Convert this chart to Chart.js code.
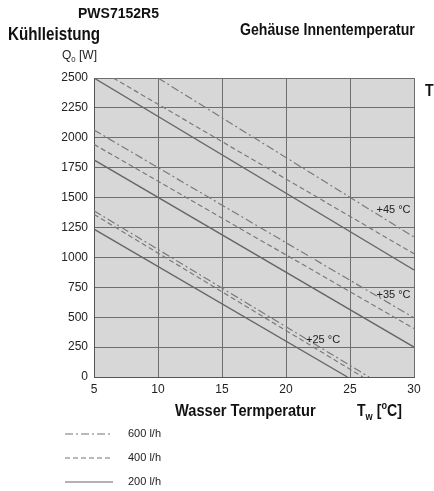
<!DOCTYPE html>
<html>
<head>
<meta charset="utf-8">
<script src="https://cdn.jsdelivr.net/npm/chart.js@4.4.0/dist/chart.umd.min.js"></script>
<style>
  html, body { margin:0; padding:0; background:#fff; }
  #wrap { position:relative; width:434px; height:491px; overflow:hidden; }
  #c { position:absolute; left:0; top:0; }
  .t { position:absolute; white-space:nowrap; color:#111; line-height:1.15; }
  .narrow { font-family:"Liberation Sans",Arial,sans-serif; font-weight:bold; font-size:17px; transform:scaleX(0.83); transform-origin:0 0; }
  .small { font-family:"Liberation Sans",Arial,sans-serif; font-size:11px; color:#222; }
  .glabel { position:absolute; font-family:"Liberation Sans",Arial,sans-serif; font-size:11px; color:#222; transform:translate(-50%,-50%); white-space:nowrap; }
  sub, sup { font-size:65%; line-height:0; }
</style>
</head>
<body>
<div id="wrap">
  <canvas id="c" width="434" height="491"></canvas>
  <div class="t" style="left:78px;top:5px;font-family:'Liberation Sans',Arial,sans-serif;font-weight:bold;font-size:14px;">PWS7152R5</div>
  <div class="t narrow" style="left:8px;top:24px;font-size:18px;transform:scaleX(0.845);">Kühlleistung</div>
  <div class="t narrow" style="left:240px;top:20px;">Gehäuse Innentemperatur</div>
  <div class="t narrow" style="left:425px;top:81px;">T<sub style="font-weight:normal">i</sub></div>
  <div class="t small" style="left:62px;top:49px;font-size:12px;">Q<sub>0</sub> [W]</div>
  <div class="t narrow" style="left:175px;top:401px;transform:scaleX(0.86);">Wasser Termperatur</div>
  <div class="t narrow" style="left:357px;top:401px;">T<sub>w</sub> [<sup>o</sup>C]</div>

  <svg style="position:absolute;left:0;top:420px" width="130" height="71">
    <line x1="65" y1="14" x2="113" y2="14" stroke="#777" stroke-width="1.2" stroke-dasharray="8,3,2,3"/>
    <line x1="65" y1="38" x2="113" y2="38" stroke="#777" stroke-width="1.2" stroke-dasharray="5,3"/>
    <line x1="65" y1="62" x2="113" y2="62" stroke="#666" stroke-width="1.2"/>
  </svg>
  <div class="t small" style="left:128px;top:427px;" id="lg0"></div>
  <div class="t small" style="left:128px;top:451px;" id="lg1"></div>
  <div class="t small" style="left:128px;top:475px;" id="lg2"></div>

  <div class="glabel" id="gl0"></div>
  <div class="glabel" id="gl1"></div>
  <div class="glabel" id="gl2"></div>
</div>
<script>
// ---- data ----
const xTicks = [5, 10, 15, 20, 25, 30];
const yTicks = [0, 250, 500, 750, 1000, 1250, 1500, 1750, 2000, 2250, 2500];
const flowLabels = ['600 l/h', '400 l/h', '200 l/h'];
const groupLabels = ['+45 °C', '+35 °C', '+25 °C'];
const groupLabelX = [28.4, 28.4, 22.9];
const groupLabelY = [1405, 697, 314];

// each series: water temperature (x) and cooling power (y)
const t45_600_x = [10, 30];   const t45_600_y = [2500, 1170];
const t45_400_x = [6.5, 30];  const t45_400_y = [2500, 1030];
const t45_200_x = [5, 30];    const t45_200_y = [2500, 895];
const t35_600_x = [5, 30];    const t35_600_y = [2065, 495];
const t35_400_x = [5, 30];    const t35_400_y = [1945, 405];
const t35_200_x = [5, 30];    const t35_200_y = [1815, 250];
const t25_600_x = [5, 26.5];  const t25_600_y = [1390, 0];
const t25_400_x = [5, 26];    const t25_400_y = [1360, 0];
const t25_200_x = [5, 24.8];  const t25_200_y = [1236, 0];

function pts(xs, ys) { return xs.map((x, i) => ({ x: x, y: ys[i] })); }

const styles = {
  600: { borderColor: '#7a7a7a', borderDash: [8, 3, 2, 3], borderWidth: 1.2 },
  400: { borderColor: '#7a7a7a', borderDash: [5, 3], borderWidth: 1.2 },
  200: { borderColor: '#666666', borderDash: [], borderWidth: 1.3 }
};
function ds(label, xs, ys, flow) {
  return Object.assign({ label: label, data: pts(xs, ys), pointRadius: 0, fill: false, tension: 0 }, styles[flow]);
}

document.getElementById('lg0').textContent = flowLabels[0];
document.getElementById('lg1').textContent = flowLabels[1];
document.getElementById('lg2').textContent = flowLabels[2];
groupLabels.forEach((g, i) => { document.getElementById('gl' + i).textContent = g; });

const bgPlugin = {
  id: 'bg',
  beforeDraw(chart) {
    const a = chart.chartArea, ctx = chart.ctx;
    ctx.save();
    ctx.fillStyle = '#d7d7d7';
    ctx.fillRect(a.left, a.top, a.right - a.left, a.bottom - a.top);
    ctx.restore();
  },
  afterDraw(chart) {
    const xs = chart.scales.x, ys = chart.scales.y;
    groupLabels.forEach((g, i) => {
      const el = document.getElementById('gl' + i);
      el.style.left = xs.getPixelForValue(groupLabelX[i]) + 'px';
      el.style.top = ys.getPixelForValue(groupLabelY[i]) + 'px';
    });
  }
};

const tickFont = { family: 'Liberation Sans', size: 12 };

new Chart(document.getElementById('c'), {
  type: 'line',
  data: {
    datasets: [
      ds('45 600', t45_600_x, t45_600_y, 600),
      ds('45 400', t45_400_x, t45_400_y, 400),
      ds('45 200', t45_200_x, t45_200_y, 200),
      ds('35 600', t35_600_x, t35_600_y, 600),
      ds('35 400', t35_400_x, t35_400_y, 400),
      ds('35 200', t35_200_x, t35_200_y, 200),
      ds('25 600', t25_600_x, t25_600_y, 600),
      ds('25 400', t25_400_x, t25_400_y, 400),
      ds('25 200', t25_200_x, t25_200_y, 200)
    ]
  },
  options: {
    responsive: false,
    animation: false,
    layout: { padding: { left: 0, top: 78, right: 20, bottom: 0 } },
    plugins: { legend: { display: false }, tooltip: { enabled: false } },
    scales: {
      x: {
        type: 'linear', min: 5, max: 30,
        afterBuildTicks(s) { s.ticks = xTicks.map(v => ({ value: v })); },
        afterFit(s) { s.height = 114; },
        grid: { color: '#6e6e6e', lineWidth: 1, drawTicks: false },
        border: { color: '#555', width: 1 },
        ticks: { color: '#222', font: tickFont, padding: 5, maxRotation: 0, callback: v => String(v) }
      },
      y: {
        type: 'linear', min: 0, max: 2500,
        afterBuildTicks(s) { s.ticks = yTicks.map(v => ({ value: v })); },
        afterFit(s) { s.width = 94; },
        grid: { color: '#6e6e6e', lineWidth: 1, drawTicks: false },
        border: { color: '#555', width: 1 },
        ticks: { color: '#222', font: tickFont, padding: 6, callback: v => String(v) }
      }
    }
  },
  plugins: [bgPlugin]
});
</script>
</body>
</html>
